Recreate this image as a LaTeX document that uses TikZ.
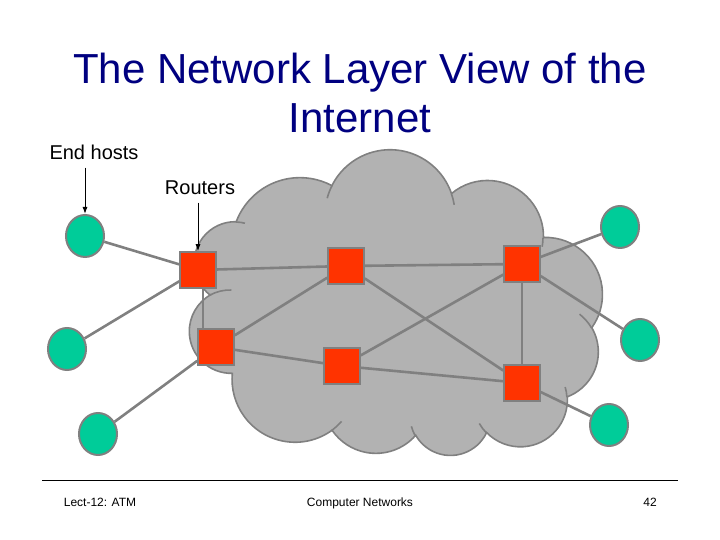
\documentclass[tikz,border=0pt]{standalone}
\usepackage{fontspec}
\setmainfont{Liberation Sans}
\usepackage{tikz}
\usetikzlibrary{positioning,arrows.meta,shapes.geometric,backgrounds}
\definecolor{titleblue}{RGB}{0,0,128}
\definecolor{hostgreen}{RGB}{0,204,153}
\definecolor{routerred}{RGB}{255,51,0}
\definecolor{cloudgray}{RGB}{178,178,178}
\definecolor{edgegray}{RGB}{128,128,128}

\begin{document}
\begin{tikzpicture}[x=1pt,y=1pt,
    host/.style={ellipse, draw=edgegray, line width=2pt, fill=hostgreen,
        minimum width=38pt, minimum height=42pt, inner sep=0pt},
    router/.style={rectangle, draw=edgegray, line width=1.5pt, fill=routerred,
        minimum size=36pt, inner sep=0pt},
    link/.style={draw=edgegray, line width=2.6pt},
    rim/.style={draw=edgegray, line width=1.6pt},
    pointer/.style={-{Latex[length=7pt,width=5pt]}, line width=1pt, shorten <=4pt},
    label/.style={font=\fontsize{20}{24}\selectfont, anchor=base},
    foot/.style={font=\fontsize{12}{14}\selectfont, anchor=base}]
    \useasboundingbox (0,0) rectangle (720,540);

    % Titulo
    \node[font=\fontsize{42}{49}\selectfont, text=titleblue, align=center] (title) at (360,447)
        {The Network Layer View of the\\Internet};

    % Roteadores
    \node[router] (r1) at (198,270) {};
    \node[router] (r2) at (346,274) {};
    \node[router] (r3) at (522,276) {};
    \node[router] (r4) at (216,193) {};
    \node[router] (r5) at (342,174) {};
    \node[router] (r6) at (522,157) {};

    % Hosts finais
    \node[host] (h1) at (85,304) {};
    \node[host] (h2) at (67,191) {};
    \node[host] (h3) at (98,106) {};
    \node[host] (h4) at (620,313) {};
    \node[host] (h5) at (640,200) {};
    \node[host] (h6) at (609,115) {};

    % Rotulos
    \node[label] (hostlbl) at (94,380) {End hosts};
    \node[label] (routerlbl) at (200,345) {Routers};
    \draw[pointer] (hostlbl.south -| h1.north) -- (h1.north);
    \draw[pointer] (routerlbl.south -| r1.north) -- (r1.north);

    \begin{scope}[on background layer]
        % Nuvem
        \filldraw[rim, fill=cloudgray] (210,245)
            arc[start angle=232, end angle=88.6, radius=41]
            arc[start angle=159.4, end angle=61.9, radius=68]
            arc[start angle=153.4, end angle=19, radius=65]
            arc[start angle=130, end angle=-1, radius=56]
            arc[start angle=92, end angle=-35.7, radius=57]
            arc[start angle=30.3, end angle=-69.3, radius=48]
            arc[start angle=3.7, end angle=-135.9, radius=47]
            arc[start angle=-25.3, end angle=-150.3, radius=40]
            arc[start angle=-41.2, end angle=-145.7, radius=53]
            arc[start angle=-54, end angle=-185.4, radius=63]
            arc[start angle=-88.6, end angle=-241.6, radius=42] -- cycle;
        \foreach \cx/\cy/\rad/\a/\b in {235/277/41/88.6/76, 390/325/65/153.4/165,
            390/325/65/19/9, 487/303/56/-1/-10, 550/188/48/30.3/52,
            520/140/47/3.7/16, 520/140/47/-135.9/-150, 450/124/40/-150.3/-165,
            294/160/63/-54/-41, 230/208/42/118.4/88}
            \draw[rim] (\cx,\cy) ++(\a:\rad) arc[start angle=\a, end angle=\b, radius=\rad];

        % Ligacoes
        \draw[link] (h1) -- (r1);
        \draw[link] (h2) -- (r1);
        \draw[link] (h3) -- (r4);
        \draw[link] (r1) -- (r2);
        \draw[link] ([xshift=5pt]r1.south) -- ([xshift=5pt]r1.south |- r4.north);
        \draw[link] (r2) -- (r3);
        \draw[link] (r2) -- (r4);
        \draw[link] (r2) -- (r6);
        \draw[link] (r3) -- (r5);
        \draw[link] (r3) -- (r6);
        \draw[link] (r4) -- (r5);
        \draw[link] (r5) -- (r6);
        \draw[link] (r3) -- (h4);
        \draw[link] (r3) -- (h5);
        \draw[link] (r6) -- (h6);
    \end{scope}

    % Rodape
    \draw[line width=0.8pt] (42,60) -- (678,60);
    \node[foot] (lect) at (100,33) {Lect-12: ATM};
    \node[foot] (course) at (360,33) {Computer Networks};
    \node[foot] (page) at (650,33) {42};
\end{tikzpicture}
\end{document}
